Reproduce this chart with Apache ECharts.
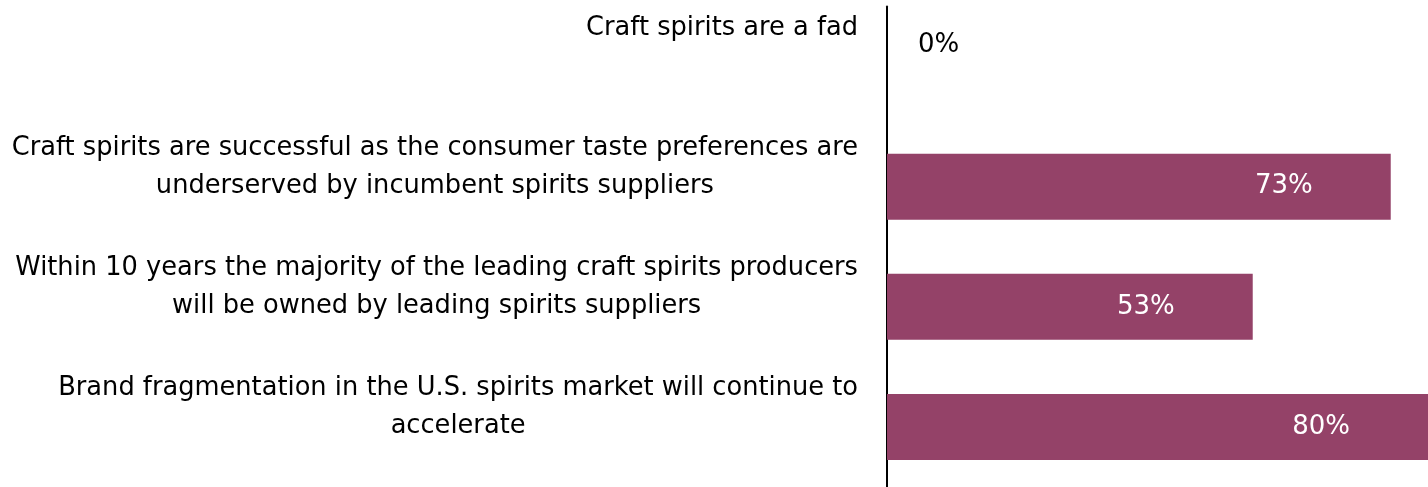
<!DOCTYPE html>
<html>
<head>
<meta charset="utf-8">
<script src="https://cdn.jsdelivr.net/npm/echarts@6/dist/echarts.min.js"></script>
<style>
  html, body { margin: 0; padding: 0; background: #fff; }
  #chart { width: 1428px; height: 487px; }
</style>
</head>
<body>
<div id="chart"></div>
<script>
// categories (line breaks as in the original)
const categories = [
  'Craft spirits are a fad',
  'Craft spirits are successful as the consumer taste preferences are\nunderserved by incumbent spirits suppliers',
  'Within 10 years the majority of the leading craft spirits producers\nwill be owned by leading spirits suppliers',
  'Brand fragmentation in the U.S. spirits market will continue to\naccelerate'
]
// share of respondents, %
const values = [0, 73, 53, 80]

const FONT = '"DejaVu Sans", sans-serif'
const barColor = '#944268'

let chart = echarts.init(document.getElementById('chart'))

// 0% label sits just right of the axis
const seriesData = values.map(v => v === 0
  ? { value: v, label: { position: 'right', distance: 31, offset: [0, -21], color: '#000' } }
  : v)

chart.setOption({
  animation: false,
  grid: {
    left: 887,
    right: 0,
    top: 6.5,
    height: 484,
    containLabel: false,
  },
  xAxis: {
    type: 'value',
    min: 0,
    max: 78.4, // longest bar runs off the right edge
    show: false,
  },
  yAxis: {
    type: 'category',
    inverse: true,
    data: categories,
    axisLine: { show: true, lineStyle: { color: '#000', width: 2 } },
    axisTick: { show: false },
    axisLabel: {
      margin: 29,
      verticalAlign: 'middle',
      padding: [0, 0, 39, 0],
      formatter: function (txt) {
        let lines = txt.split('\n')
        if (lines.length < 2) lines.push(' ')
        return lines.map(l => '{c|' + l + '}').join('\n')
      },
      rich: {
        c: {
          align: 'center',
          fontFamily: FONT,
          fontSize: 25.7,
          lineHeight: 38,
          color: '#000',
        },
      },
    },
  },
  series: [
    {
      type: 'bar',
      data: seriesData,
      barWidth: 66,
      itemStyle: { color: barColor },
      label: {
        show: true,
        position: 'insideRight',
        distance: 78,
        formatter: '{c}%',
        color: '#fff',
        fontFamily: FONT,
        fontSize: 26,
      },
    },
  ],
})
</script>
</body>
</html>
